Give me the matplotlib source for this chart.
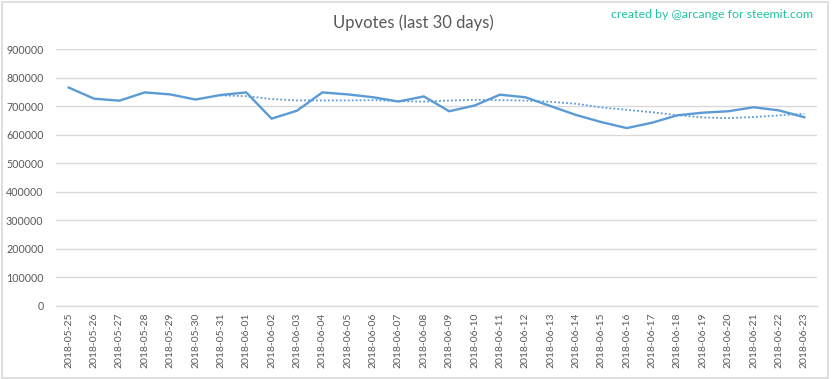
import matplotlib
matplotlib.use("Agg")
import matplotlib.pyplot as plt
import numpy as np
import pandas as pd
from matplotlib.patches import FancyBboxPatch

# Daily upvote counts.
dates = pd.date_range("2018-05-25", "2018-06-23", freq="D").strftime("%Y-%m-%d").tolist()
upvotes = [
    765000, 726000, 719000, 748000, 741000, 723000, 739000, 748000, 656000, 684000,
    748000, 741000, 731000, 716000, 734000, 682000, 702000, 740000, 731000, 700000,
    669000, 644000, 623000, 642000, 668000, 677000, 682000, 696000, 685000, 661000,
]
trend_period = 7  # Excel "moving average" trendline

title = "Upvotes (last 30 days)"
credit = "created by @arcange for steemit.com"
yticks = list(range(0, 900001, 100000))

LINE_BLUE = "#5B9BD5"
GRID = "#D9D9D9"
TEXT_GREY = "#595959"
CREDIT_GREEN = "#22C3A0"

plt.rcParams["font.family"] = ["Lato", "DejaVu Sans"]

W, H = 832, 379
fig = plt.figure(figsize=(W / 100, H / 100), dpi=100)
fig.patch.set_facecolor("white")

# outer chart-area border
fig.patches.append(FancyBboxPatch(
    (1.5 / W, 1.5 / H), 826.5 / W, 375.5 / H,
    boxstyle="square,pad=0", transform=fig.transFigure,
    facecolor="none", edgecolor=GRID, linewidth=1.2,
))

ax = fig.add_axes([56 / W, (H - 306) / H, (817 - 56) / W, (306 - 49) / H])

x = np.arange(len(dates))
trend = pd.Series(upvotes).rolling(trend_period).mean()

ax.plot(x, upvotes, color=LINE_BLUE, linewidth=1.7, solid_joinstyle="round", zorder=3)
ax.plot(x, trend, color=LINE_BLUE, linewidth=1.3, linestyle=(0, (1, 1.2)), zorder=2)

ax.set_xlim(-0.5, len(dates) - 0.5)
ax.set_ylim(0, 900000)
ax.set_yticks(yticks)
ax.set_yticklabels([str(v) for v in yticks])
ax.set_xticks(x)
ax.set_xticklabels(dates, rotation=90)

ax.yaxis.grid(True, color=GRID, linewidth=1)
ax.set_axisbelow(True)
for side in ("left", "right", "top"):
    ax.spines[side].set_visible(False)
ax.spines["bottom"].set_color(GRID)
ax.spines["bottom"].set_linewidth(1)

ax.tick_params(axis="y", length=0, pad=9, labelsize=7.7, labelcolor=TEXT_GREY)
ax.tick_params(axis="x", length=0, pad=5, labelsize=7.5, labelcolor=TEXT_GREY)

fig.text(413 / W, 1 - 23 / H, title, ha="center", va="center",
         fontsize=12, color=TEXT_GREY)
fig.text(813 / W, 1 - 15 / H, credit, ha="right", va="center",
         fontsize=8.9, color=CREDIT_GREEN)

fig.savefig("out.png", dpi=100)
